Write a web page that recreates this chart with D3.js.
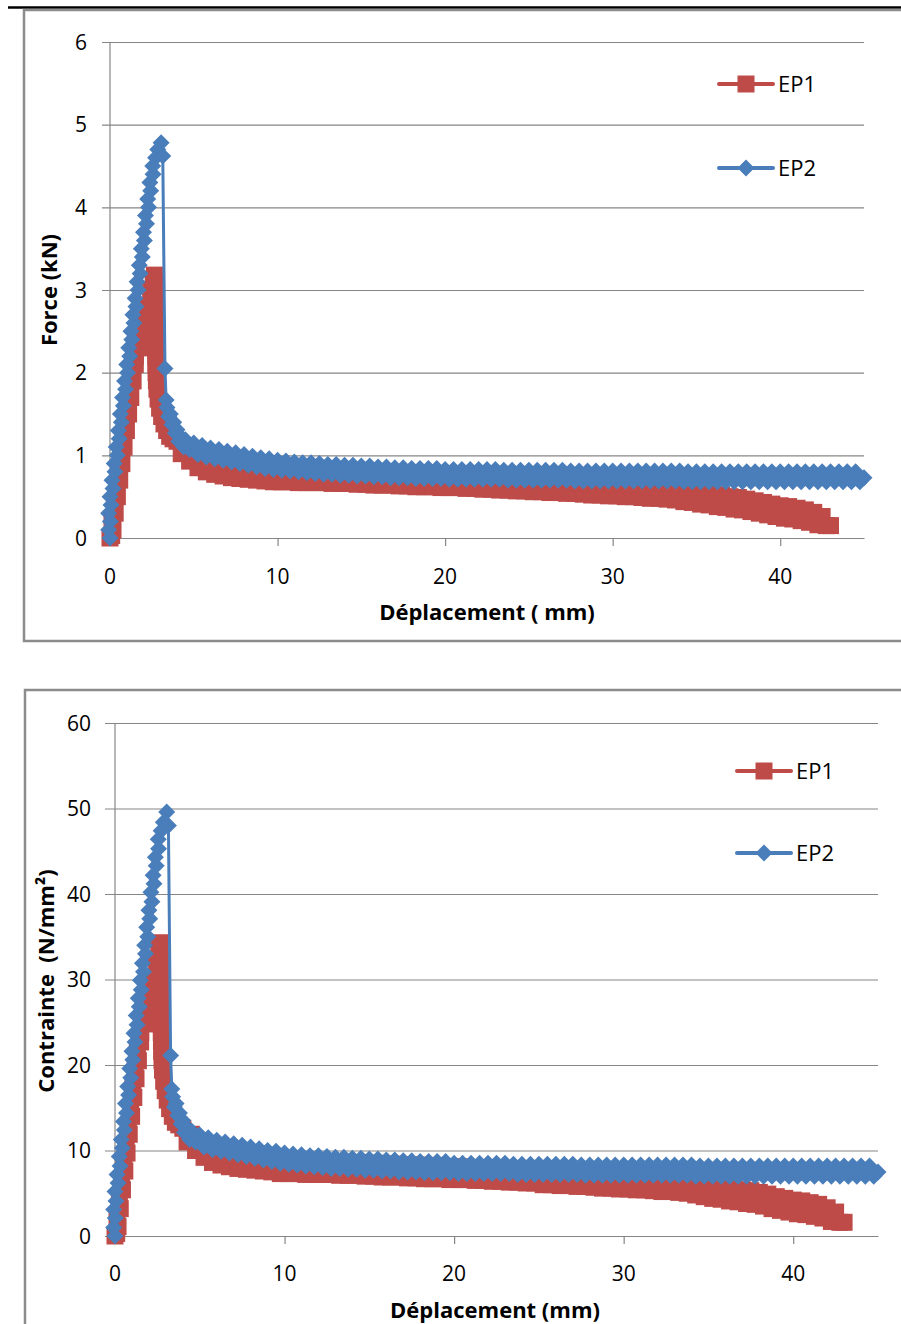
<!DOCTYPE html>
<html>
<head>
<meta charset="utf-8">
<script src="https://cdn.jsdelivr.net/npm/d3@7"></script>
<style>
  body { margin: 0; background: #fff; }
  svg { display: block; }
  text { font-family: "Open Sans", sans-serif; fill: #000; }
</style>
</head>
<body>
<svg id="chart" width="901" height="1324"></svg>
<script>
// ---- data (displacement in mm) ----
const seriesNames = ["EP1", "EP2"];
const dispTicks = [0, 10, 20, 30, 40];
const forceTicks = [0, 1, 2, 3, 4, 5, 6];
const stressTicks = [0, 10, 20, 30, 40, 50, 60];

const ep1Disp = [
  0, 0.1, 0.18, 0.12, 0.31, 0.26, 0.44, 0.39, 0.58, 0.52, 0.71, 0.66, 0.84, 0.79, 0.98, 0.92,
  1.11, 1.06, 1.24, 1.19, 1.38, 1.32, 1.51, 1.52, 1.78, 1.79, 2.03, 2.03, 2.26, 2.24, 2.46, 2.43,
  2.58, 2.65,
  2.67, 2.68, 2.69, 2.7, 2.7, 2.71, 2.71, 2.72, 2.72, 2.73, 2.74, 2.75, 2.77, 2.8,
  2.87, 2.96, 3.08, 3.22, 3.38, 3.56, 3.76,
  4.0, 4.25, 4.5, 4.75, 5.0,
  5.25, 5.5, 5.75, 6, 6.25, 6.5, 6.75, 7, 7.25, 7.5, 7.75, 8, 8.25, 8.5, 8.75, 9, 9.25, 9.5, 9.75, 10,
  10.25, 10.5, 10.75, 11, 11.25, 11.5, 11.75, 12, 12.25, 12.5, 12.75, 13, 13.25, 13.5, 13.75, 14,
  14.25, 14.5, 14.75, 15, 15.25, 15.5, 15.75, 16, 16.25, 16.5, 16.75, 17, 17.25, 17.5, 17.75, 18,
  18.25, 18.5, 18.75, 19, 19.25, 19.5, 19.75, 20, 20.25, 20.5, 20.75, 21, 21.25, 21.5, 21.75, 22,
  22.25, 22.5, 22.75, 23, 23.25, 23.5, 23.75, 24, 24.25, 24.5, 24.75, 25, 25.25, 25.5, 25.75, 26,
  26.25, 26.5, 26.75, 27, 27.25, 27.5, 27.75, 28, 28.25, 28.5, 28.75, 29, 29.25, 29.5, 29.75, 30,
  30.25, 30.5, 30.75, 31, 31.25, 31.5, 31.75, 32, 32.25, 32.5, 32.75, 33, 33.25, 33.5, 33.75, 34,
  34.25, 34.5, 34.75, 35, 35.25, 35.5, 35.75, 36, 36.25, 36.5, 36.75, 37, 37.25, 37.5, 37.75, 38,
  38.25, 38.5, 38.75, 39, 39.25, 39.5, 39.75, 40, 40.25, 40.5, 40.75, 41, 41.25, 41.5, 41.75, 42,
  42.25, 42.5, 42.75, 43
];
const ep1Force = [
  0, 0.03, 0.1, 0.2, 0.3, 0.4, 0.5, 0.6, 0.7, 0.8, 0.9, 1.0, 1.1, 1.2, 1.3, 1.4,
  1.5, 1.6, 1.7, 1.8, 1.9, 2.0, 2.1, 2.2, 2.3, 2.4, 2.5, 2.6, 2.7, 2.8, 2.9, 3.0,
  3.1, 3.18,
  3.1, 3.0, 2.9, 2.8, 2.7, 2.6, 2.5, 2.4, 2.3, 2.2, 2.1, 2.0, 1.9, 1.8,
  1.68, 1.57, 1.47, 1.38, 1.3, 1.23, 1.2,
  1.17, 1.02, 1.1, 0.93, 1.02,
  0.85, 0.96, 0.80, 0.92, 0.77, 0.90, 0.75, 0.88, 0.73, 0.87, 0.72, 0.85, 0.71, 0.84, 0.70, 0.84,
  0.69, 0.83, 0.68, 0.82, 0.68, 0.82, 0.68, 0.82, 0.67, 0.81, 0.67, 0.81, 0.67, 0.81, 0.67, 0.81,
  0.66, 0.80, 0.66, 0.80, 0.66, 0.80, 0.65, 0.79, 0.65, 0.79, 0.64, 0.78, 0.64, 0.78, 0.64, 0.77,
  0.63, 0.77, 0.63, 0.77, 0.62, 0.76, 0.62, 0.76, 0.62, 0.75, 0.61, 0.75, 0.61, 0.75, 0.61, 0.74,
  0.60, 0.74, 0.60, 0.74, 0.59, 0.73, 0.59, 0.72, 0.58, 0.72, 0.58, 0.71, 0.57, 0.71, 0.57, 0.70,
  0.56, 0.70, 0.56, 0.69, 0.55, 0.69, 0.55, 0.68, 0.54, 0.68, 0.54, 0.67, 0.53, 0.67, 0.52, 0.66,
  0.52, 0.66, 0.51, 0.65, 0.51, 0.65, 0.50, 0.64, 0.50, 0.64, 0.49, 0.63, 0.48, 0.62, 0.48, 0.61,
  0.47, 0.60, 0.46, 0.59, 0.44, 0.58, 0.43, 0.56, 0.41, 0.55, 0.40, 0.53, 0.38, 0.52, 0.37, 0.50,
  0.35, 0.49, 0.34, 0.47, 0.32, 0.45, 0.30, 0.43, 0.28, 0.41, 0.26, 0.39, 0.24, 0.38, 0.23, 0.36,
  0.21, 0.34, 0.19, 0.31, 0.16, 0.26, 0.15, 0.15
];
const ep1Stress = [
  0, 0.3, 1.1, 2.2, 3.2, 4.3, 5.4, 6.5, 7.6, 8.6, 9.7, 10.8, 11.9, 13.0, 14.0, 15.1,
  16.2, 17.3, 18.4, 19.4, 20.5, 21.6, 22.7, 23.8, 24.8, 25.9, 27.0, 28.1, 29.2, 30.2, 31.3, 32.4,
  33.5, 34.3,
  33.5, 32.4, 31.3, 30.2, 29.2, 28.1, 27.0, 25.9, 24.8, 23.8, 22.7, 21.6, 20.5, 19.4,
  18.1, 17.0, 15.9, 14.9, 14.0, 13.3, 13.0,
  12.6, 11.0, 11.9, 10.0, 11.0,
  9.2, 10.4, 8.6, 9.9, 8.3, 9.7, 8.1, 9.5, 7.9, 9.4, 7.8, 9.2, 7.7, 9.1, 7.6, 9.1,
  7.5, 9.0, 7.3, 8.9, 7.3, 8.9, 7.3, 8.9, 7.2, 8.7, 7.2, 8.7, 7.2, 8.7, 7.2, 8.7,
  7.1, 8.6, 7.1, 8.6, 7.1, 8.6, 7.0, 8.5, 7.0, 8.5, 6.9, 8.4, 6.9, 8.4, 6.9, 8.3,
  6.8, 8.3, 6.8, 8.3, 6.7, 8.2, 6.7, 8.2, 6.7, 8.1, 6.6, 8.1, 6.6, 8.1, 6.6, 8.0,
  6.5, 8.0, 6.5, 8.0, 6.4, 7.9, 6.4, 7.8, 6.3, 7.8, 6.3, 7.7, 6.2, 7.7, 6.2, 7.6,
  6.0, 7.6, 6.0, 7.5, 5.9, 7.5, 5.9, 7.3, 5.8, 7.3, 5.8, 7.2, 5.7, 7.2, 5.6, 7.1,
  5.6, 7.1, 5.5, 7.0, 5.5, 7.0, 5.4, 6.9, 5.4, 6.9, 5.3, 6.8, 5.2, 6.7, 5.2, 6.6,
  5.1, 6.5, 5.0, 6.4, 4.8, 6.3, 4.6, 6.0, 4.4, 5.9, 4.3, 5.7, 4.1, 5.6, 4.0, 5.4,
  3.8, 5.3, 3.7, 5.1, 3.5, 4.9, 3.2, 4.6, 3.0, 4.4, 2.8, 4.2, 2.6, 4.1, 2.5, 3.9,
  2.3, 3.7, 2.1, 3.3, 1.7, 2.8, 1.6, 1.6
];

const ep2Disp = [
  0, -0.08, 0.02, -0.08, 0.06, 0.0, 0.18, 0.12, 0.30, 0.25, 0.43, 0.37, 0.55, 0.50, 0.68, 0.62,
  0.80, 0.75, 0.93, 0.87, 1.05, 1.00, 1.18, 1.12, 1.30, 1.25, 1.43, 1.37, 1.55, 1.50, 1.68, 1.62,
  1.80, 1.75, 1.93, 1.87, 2.05, 2.00, 2.18, 2.12, 2.30, 2.25, 2.43, 2.38, 2.57, 2.55, 2.72, 2.85,
  3.05,
  3.15, 3.28, 3.35,
  3.4, 3.5, 3.6, 3.7, 3.8, 3.9, 4.0, 4.1, 4.25, 4.4, 4.5, 4.75, 5.0,
  5.25, 5.5, 5.75, 6, 6.25, 6.5, 6.75, 7, 7.25, 7.5, 7.75, 8, 8.25, 8.5, 8.75, 9, 9.25, 9.5, 9.75, 10,
  10.25, 10.5, 10.75, 11, 11.25, 11.5, 11.75, 12, 12.25, 12.5, 12.75, 13, 13.25, 13.5, 13.75, 14,
  14.25, 14.5, 14.75, 15, 15.25, 15.5, 15.75, 16, 16.25, 16.5, 16.75, 17, 17.25, 17.5, 17.75, 18,
  18.25, 18.5, 18.75, 19, 19.25, 19.5, 19.75, 20, 20.25, 20.5, 20.75, 21, 21.25, 21.5, 21.75, 22,
  22.25, 22.5, 22.75, 23, 23.25, 23.5, 23.75, 24, 24.25, 24.5, 24.75, 25, 25.25, 25.5, 25.75, 26,
  26.25, 26.5, 26.75, 27, 27.25, 27.5, 27.75, 28, 28.25, 28.5, 28.75, 29, 29.25, 29.5, 29.75, 30,
  30.25, 30.5, 30.75, 31, 31.25, 31.5, 31.75, 32, 32.25, 32.5, 32.75, 33, 33.25, 33.5, 33.75, 34,
  34.25, 34.5, 34.75, 35, 35.25, 35.5, 35.75, 36, 36.25, 36.5, 36.75, 37, 37.25, 37.5, 37.75, 38,
  38.25, 38.5, 38.75, 39, 39.25, 39.5, 39.75, 40, 40.25, 40.5, 40.75, 41, 41.25, 41.5, 41.75, 42,
  42.25, 42.5, 42.75, 43, 43.25, 43.5, 43.75, 44, 44.25, 44.5, 44.75, 45
];
const ep2Force = [
  0, 0.1, 0.2, 0.3, 0.4, 0.5, 0.6, 0.7, 0.8, 0.9, 1.0, 1.1, 1.2, 1.3, 1.4, 1.5,
  1.6, 1.7, 1.8, 1.9, 2.0, 2.1, 2.2, 2.3, 2.4, 2.5, 2.6, 2.7, 2.8, 2.9, 3.0, 3.1,
  3.2, 3.3, 3.4, 3.5, 3.6, 3.7, 3.8, 3.9, 4.0, 4.1, 4.2, 4.3, 4.4, 4.5, 4.6, 4.7,
  4.78,
  4.62, 2.05, 1.67,
  1.58, 1.47, 1.5, 1.37, 1.4, 1.27, 1.31, 1.17, 1.22, 1.1, 1.19, 1.07, 1.15,
  1.01, 1.12, 0.98, 1.09, 0.96, 1.07, 0.94, 1.05, 0.92, 1.03, 0.90, 1.01, 0.88, 0.99, 0.86, 0.97,
  0.84, 0.96, 0.83, 0.94, 0.82, 0.93, 0.81, 0.92, 0.80, 0.91, 0.79, 0.91, 0.78, 0.90, 0.77, 0.89,
  0.77, 0.89, 0.76, 0.88, 0.76, 0.88, 0.75, 0.87, 0.75, 0.87, 0.74, 0.86, 0.74, 0.86, 0.73, 0.85,
  0.73, 0.85, 0.73, 0.84, 0.72, 0.84, 0.72, 0.84, 0.72, 0.84, 0.72, 0.83, 0.71, 0.83, 0.71, 0.83,
  0.71, 0.83, 0.71, 0.83, 0.71, 0.83, 0.71, 0.83, 0.71, 0.82, 0.70, 0.82, 0.70, 0.82, 0.70, 0.82,
  0.70, 0.82, 0.70, 0.82, 0.70, 0.82, 0.70, 0.82, 0.70, 0.81, 0.69, 0.81, 0.69, 0.81, 0.69, 0.81,
  0.69, 0.81, 0.69, 0.81, 0.69, 0.81, 0.69, 0.81, 0.69, 0.81, 0.69, 0.81, 0.69, 0.81, 0.69, 0.81,
  0.69, 0.81, 0.69, 0.81, 0.68, 0.80, 0.68, 0.80, 0.68, 0.80, 0.68, 0.80, 0.68, 0.80, 0.68, 0.80,
  0.68, 0.80, 0.68, 0.80, 0.68, 0.80, 0.68, 0.80, 0.68, 0.80, 0.68, 0.80, 0.68, 0.80, 0.68, 0.80,
  0.68, 0.80, 0.68, 0.80, 0.68, 0.80, 0.68, 0.80, 0.68, 0.80, 0.68, 0.80, 0.68, 0.80, 0.68, 0.73
];
const ep2Stress = [
  0, 1.0, 2.1, 3.1, 4.1, 5.2, 6.2, 7.2, 8.2, 9.3, 10.3, 11.3, 12.4, 13.4, 14.4, 15.5,
  16.5, 17.5, 18.5, 19.6, 20.6, 21.6, 22.7, 23.7, 24.7, 25.8, 26.8, 27.8, 28.8, 29.9, 30.9, 31.9,
  33.0, 34.0, 35.0, 36.1, 37.1, 38.1, 39.1, 40.2, 41.2, 42.2, 43.3, 44.3, 45.3, 46.4, 47.4, 48.4,
  49.6,
  48.0, 21.1, 17.2,
  16.3, 15.1, 15.5, 14.1, 14.4, 13.1, 13.5, 12.1, 12.6, 11.3, 12.3, 11.0, 11.8,
  10.4, 11.5, 10.1, 11.2, 9.9, 11.0, 9.7, 10.8, 9.5, 10.6, 9.3, 10.4, 9.1, 10.2, 8.9, 10.0,
  8.7, 9.9, 8.5, 9.7, 8.4, 9.6, 8.3, 9.5, 8.2, 9.4, 8.1, 9.4, 8.0, 9.3, 7.9, 9.2,
  7.9, 9.2, 7.8, 9.1, 7.8, 9.1, 7.7, 9.0, 7.7, 9.0, 7.6, 8.9, 7.6, 8.9, 7.5, 8.8,
  7.5, 8.8, 7.5, 8.7, 7.4, 8.7, 7.4, 8.7, 7.4, 8.7, 7.4, 8.5, 7.3, 8.5, 7.3, 8.5,
  7.3, 8.5, 7.3, 8.5, 7.3, 8.5, 7.3, 8.5, 7.3, 8.4, 7.2, 8.4, 7.2, 8.4, 7.2, 8.4,
  7.2, 8.4, 7.2, 8.4, 7.2, 8.4, 7.2, 8.4, 7.2, 8.3, 7.1, 8.3, 7.1, 8.3, 7.1, 8.3,
  7.1, 8.3, 7.1, 8.3, 7.1, 8.3, 7.1, 8.3, 7.1, 8.3, 7.1, 8.3, 7.1, 8.3, 7.1, 8.3,
  7.1, 8.3, 7.1, 8.3, 7.0, 8.2, 7.0, 8.2, 7.0, 8.2, 7.0, 8.2, 7.0, 8.2, 7.0, 8.2,
  7.0, 8.2, 7.0, 8.2, 7.0, 8.2, 7.0, 8.2, 7.0, 8.2, 7.0, 8.2, 7.0, 8.2, 7.0, 8.2,
  7.0, 8.2, 7.0, 8.2, 7.0, 8.2, 7.0, 8.2, 7.0, 8.2, 7.0, 8.2, 7.0, 8.2, 7.0, 7.5
];

// ---- drawing ----
const red = "#BE4B48", blue = "#4A7EBB", grey = "#868686";
const squarePath = "M-8.5,-8.5H8.5V8.5H-8.5Z";
const diamondPath = "M0,-8.5L8.5,0L0,8.5L-8.5,0Z";

const svg = d3.select("#chart");

// black rule across the top of the page
svg.append("line")
  .attr("x1", 8).attr("x2", 901).attr("y1", 7.5).attr("y2", 7.5)
  .attr("stroke", "#000").attr("stroke-width", 2.5);

function drawPanel(p) {
  const g = svg.append("g");

  // chart frame (right side runs off the page)
  g.append("path")
    .attr("d", p.frameBottom != null
      ? `M910,${p.frameTop}H${p.frameLeft}V${p.frameBottom}H910`
      : `M910,${p.frameTop}H${p.frameLeft}V1330`)
    .attr("fill", "none").attr("stroke", "#8c8c8c").attr("stroke-width", 2.5);

  const x = d3.scaleLinear().domain([0, 45]).range(p.xRange);
  const y = d3.scaleLinear().domain([0, d3.max(p.yTicks)]).range(p.yRange);

  // gridlines with the small left tick
  g.append("g")
    .attr("transform", `translate(${p.xRange[0]},0)`)
    .call(d3.axisLeft(y).tickValues(p.yTicks).tickSize(-(p.xRange[1] - p.xRange[0])).tickFormat(""))
    .call(a => a.select(".domain").remove())
    .call(a => a.selectAll("line").attr("stroke", grey).attr("stroke-width", 1.2)
      .attr("x2", p.xRange[1] - p.xRange[0]).attr("x1", -p.tickLen));

  // y tick labels
  g.selectAll(".ylab").data(p.yTicks).join("text")
    .attr("x", p.xRange[0] - p.labelGap)
    .attr("y", d => y(d) + 7.5)
    .attr("text-anchor", "end")
    .style("font-size", "21px")
    .text(d => d);

  // x axis with ticks below
  g.append("g")
    .attr("transform", `translate(0,${p.yRange[0]})`)
    .call(d3.axisBottom(x).tickValues(dispTicks).tickSize(8).tickSizeOuter(0).tickFormat(""))
    .call(a => a.select(".domain").attr("stroke", grey).attr("stroke-width", 1.2))
    .call(a => a.selectAll("line").attr("stroke", grey).attr("stroke-width", 1.2));

  // y axis line
  g.append("line")
    .attr("x1", p.xRange[0]).attr("x2", p.xRange[0])
    .attr("y1", p.yRange[1]).attr("y2", p.yRange[0] + 8)
    .attr("stroke", grey).attr("stroke-width", 1.2);

  g.selectAll(".xlab").data(dispTicks).join("text")
    .attr("x", d => x(d))
    .attr("y", p.xLabY)
    .attr("text-anchor", "middle")
    .style("font-size", "21px")
    .text(d => d);

  // axis titles
  g.append("text")
    .attr("transform", `translate(${p.yTitleX},${p.yTitleY}) rotate(-90)`)
    .attr("text-anchor", "middle")
    .style("font-size", "22px").style("font-weight", "bold")
    .style("white-space", "pre")
    .text(p.yTitle);
  g.append("text")
    .attr("x", p.xTitleX).attr("y", p.xTitleY)
    .attr("text-anchor", "middle")
    .style("font-size", "22px").style("font-weight", "bold")
    .text(p.xTitle);

  // series: EP1 first, EP2 on top
  const line = d3.line().x(d => x(d[0])).y(d => y(d[1]));
  p.series.forEach((s, i) => {
    const pts = s.xs.map((v, k) => [v, s.ys[k]]);
    g.append("path").datum(pts)
      .attr("d", line)
      .attr("fill", "none").attr("stroke", s.color).attr("stroke-width", 3)
      .attr("stroke-linejoin", "round");
    g.append("g").selectAll("path").data(pts).join("path")
      .attr("transform", d => `translate(${x(d[0])},${y(d[1])})`)
      .attr("d", s.marker)
      .attr("fill", s.color);

    // legend entry
    const ly = p.legendY[i];
    g.append("line")
      .attr("x1", p.legendX).attr("x2", p.legendX + 54)
      .attr("y1", ly).attr("y2", ly)
      .attr("stroke", s.color).attr("stroke-width", 4).attr("stroke-linecap", "round");
    g.append("path")
      .attr("transform", `translate(${p.legendX + 27},${ly})`)
      .attr("d", s.marker).attr("fill", s.color);
    g.append("text")
      .attr("x", p.legendX + 59).attr("y", ly + 8)
      .style("font-size", "22px")
      .text(seriesNames[i]);
  });
}

drawPanel({
  frameTop: 10, frameLeft: 24, frameBottom: 641,
  xRange: [110, 864], yRange: [538, 42], yTicks: forceTicks,
  tickLen: 8, labelGap: 23, xLabY: 584,
  yTitle: "Force (kN)", yTitleX: 57, yTitleY: 290,
  xTitle: "Déplacement ( mm)", xTitleX: 487, xTitleY: 620,
  legendX: 719, legendY: [84, 168],
  series: [
    { xs: ep1Disp, ys: ep1Force, color: red, marker: squarePath },
    { xs: ep2Disp, ys: ep2Force, color: blue, marker: diamondPath }
  ]
});

drawPanel({
  frameTop: 690, frameLeft: 25, frameBottom: null,
  xRange: [115, 878], yRange: [1236, 723], yTicks: stressTicks,
  tickLen: 10, labelGap: 24, xLabY: 1281,
  yTitle: "Contrainte  (N/mm²)", yTitleX: 54, yTitleY: 981,
  xTitle: "Déplacement (mm)", xTitleX: 495, xTitleY: 1318,
  legendX: 737, legendY: [771, 853],
  series: [
    { xs: ep1Disp, ys: ep1Stress, color: red, marker: squarePath },
    { xs: ep2Disp, ys: ep2Stress, color: blue, marker: diamondPath }
  ]
});
</script>
</body>
</html>
